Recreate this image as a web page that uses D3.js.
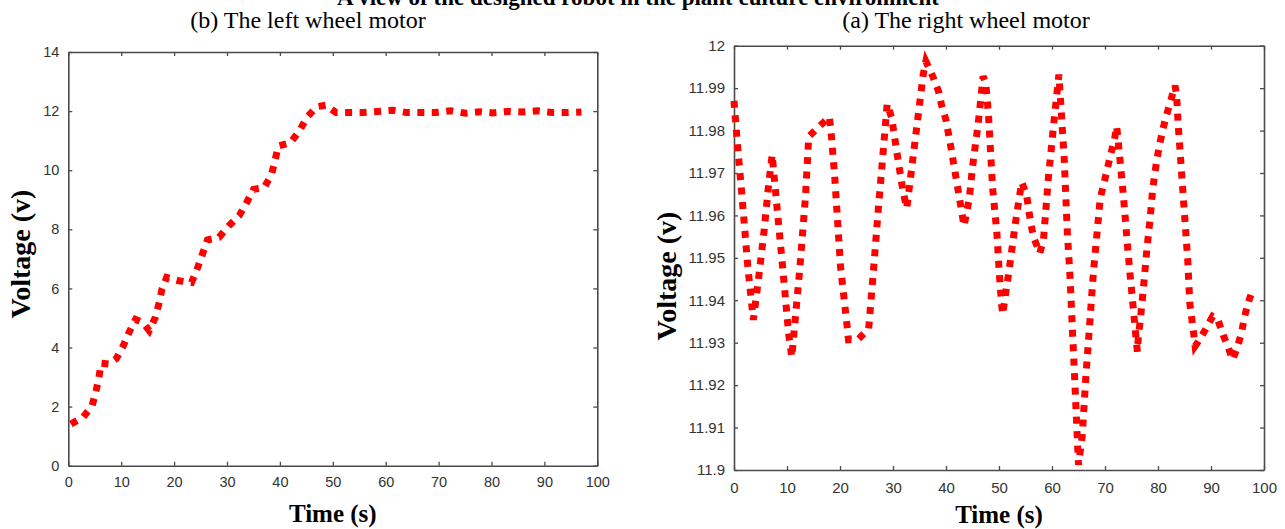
<!DOCTYPE html>
<html>
<head>
<meta charset="utf-8">
<script src="https://cdn.jsdelivr.net/npm/d3@7"></script>
<style>
  body { margin: 0; background: #fff; }
  svg { display: block; }
</style>
</head>
<body>
<svg id="fig" width="1285" height="529"></svg>
<script>
// ---- Left wheel motor: voltage while ramping up, then holding near 12 V ----
const leftTime = [0.5, 2.8, 4.5, 5.2, 5.8, 6.2, 7.7, 9.1, 10.4, 11.5, 12.7, 14.1, 15.3, 16.4, 17.1, 17.7,
  18.6, 20.9, 23.3, 24.4, 25.3, 26.3, 28.5, 30.3, 32.3, 33.7, 35.0, 37.0, 38.4, 39.1, 39.7, 42.0,
  43.8, 45.1, 47.0, 48.7, 50.6, 53.1, 55.8, 58.5, 61.4, 64.0, 66.8, 69.3, 72.4, 75.1, 77.8, 80.2,
  83.2, 85.9, 88.7, 91.5, 94.3, 97.0];
const leftVoltage = [1.41, 1.64, 2.03, 2.49, 3.0, 3.47, 3.44, 3.63, 4.06, 4.52, 4.95, 4.84, 4.57, 5.0, 5.46, 5.97,
  6.37, 6.26, 6.2, 6.68, 7.13, 7.64, 7.73, 8.11, 8.46, 8.9, 9.35, 9.41, 9.84, 10.35, 10.82, 10.93,
  11.36, 11.79, 12.15, 12.2, 11.95, 11.95, 11.95, 11.99, 12.03, 11.95, 11.95, 11.95, 12.01, 11.93, 11.98, 11.94,
  11.99, 11.97, 12.01, 11.95, 11.95, 11.97];

// ---- Right wheel motor: small ripple around 11.95 V ----
const rightTime = [0.0, 0.7, 1.45, 1.9, 2.6, 3.65, 4.7, 5.66, 6.5, 7.2, 7.7, 8.5, 9.3, 10.3, 10.9, 12.4,
  13.5, 14.1, 16.2, 18.0, 18.3, 19.0, 20.1, 21.3, 21.6, 23.5, 25.4, 26.3, 27.2, 28.4, 28.9, 29.75,
  31.0, 31.9, 32.6, 35.7, 36.2, 37.5, 38.6, 39.2, 40.0, 41.0, 42.4, 43.4, 43.9, 44.4, 45.0, 46.1,
  46.7, 47.0, 47.5, 48.0, 48.8, 49.6, 50.1, 50.5, 50.7, 51.1, 51.9, 53.0, 53.8, 54.3, 55.2, 56.0,
  56.6, 57.7, 58.4, 59.3, 60.4, 61.0, 61.3, 62.3, 62.9, 63.4, 63.9, 64.3, 64.8, 65.0, 65.7, 66.4,
  67.0, 67.8, 69.1, 69.8, 71.1, 71.8, 72.2, 72.7, 73.5, 74.2, 74.7, 76.1, 76.3, 76.9, 77.4, 77.9,
  78.5, 79.0, 79.4, 79.8, 80.3, 80.9, 81.6, 82.4, 83.2, 83.5, 83.8, 84.2, 84.8, 85.2, 85.6, 86.0,
  86.7, 87.0, 87.6, 88.9, 90.3, 91.3, 92.3, 93.3, 94.1, 95.0, 95.8, 96.3, 97.0, 97.7];
const rightVoltage = [11.987, 11.976, 11.9654, 11.9586, 11.948, 11.9354, 11.9458, 11.9562, 11.9668, 11.9743, 11.9675, 11.9568, 11.9462, 11.9322, 11.9266, 11.9472,
  11.9647, 11.9786, 11.9811, 11.9832, 11.9798, 11.9692, 11.9479, 11.9344, 11.9307, 11.9309, 11.9332, 11.9468, 11.9611, 11.9788, 11.9863, 11.983,
  11.9727, 11.9656, 11.9617, 11.9932, 11.9963, 11.9928, 11.9892, 11.9858, 11.9825, 11.9755, 11.9651, 11.9575, 11.9607, 11.964, 11.9714, 11.9819,
  11.989, 11.9928, 11.9912, 11.984, 11.9664, 11.9558, 11.9456, 11.9389, 11.9367, 11.9403, 11.947, 11.9574, 11.964, 11.9678, 11.9649, 11.958,
  11.9546, 11.9511, 11.9544, 11.9686, 11.9825, 11.9896, 11.9932, 11.9735, 11.9558, 11.9456, 11.9317, 11.921, 11.9067, 11.9012, 11.908, 11.9222,
  11.9325, 11.9464, 11.964, 11.9676, 11.9745, 11.978, 11.981, 11.9748, 11.9642, 11.9536, 11.9465, 11.9279, 11.9313, 11.9383, 11.945, 11.952,
  11.9591, 11.9662, 11.9698, 11.9733, 11.9767, 11.9802, 11.9836, 11.987, 11.9906, 11.9886, 11.9815, 11.9745, 11.9638, 11.9568, 11.9497, 11.9393,
  11.9325, 11.9292, 11.9303, 11.933, 11.9362, 11.9354, 11.9318, 11.9287, 11.926, 11.929, 11.9326, 11.936, 11.9393, 11.942];

// ---- Axis ticks and labels ----
const timeTicks = [0, 10, 20, 30, 40, 50, 60, 70, 80, 90, 100];
const leftVoltTicks = [0, 2, 4, 6, 8, 10, 12, 14];
const rightVoltTicks = [11.9, 11.91, 11.92, 11.93, 11.94, 11.95, 11.96, 11.97, 11.98, 11.99, 12];
const rightVoltLabels = ["11.9", "11.91", "11.92", "11.93", "11.94", "11.95", "11.96", "11.97", "11.98", "11.99", "12"];

const figureTitle = "A view of the designed robot in the plant culture environment";
const leftTitle = "(b) The left wheel motor";
const rightTitle = "(a) The right wheel motor";

const svg = d3.select("#fig");
const SERIF = "'Liberation Serif','Times New Roman',Times,serif";
const SANS = "'Liberation Sans',Arial,Helvetica,sans-serif";

function panel(cfg) {
  const x = d3.scaleLinear().domain([0, 100]).range([cfg.left, cfg.right]);
  const y = d3.scaleLinear().domain(cfg.yDomain).range([cfg.bottom, cfg.top]);
  const g = svg.append("g");

  const styleAxis = sel => {
    sel.selectAll(".domain").attr("stroke", "#4a4a4a").attr("stroke-width", 1.6);
    sel.selectAll(".tick line").attr("stroke", "#4a4a4a").attr("stroke-width", 1.3);
    sel.selectAll(".tick text").attr("fill", "#333").attr("font-family", SANS).attr("font-size", cfg.tickFont);
  };

  // bottom / left axes carry labels, top / right only mirror the ticks
  g.append("g").attr("transform", `translate(0,${cfg.bottom})`)
    .call(d3.axisBottom(x).tickValues(timeTicks).tickSize(-4).tickSizeOuter(0).tickPadding(cfg.xPad))
    .call(styleAxis);
  g.append("g").attr("transform", `translate(0,${cfg.top})`)
    .call(d3.axisTop(x).tickValues(timeTicks).tickSize(-4).tickSizeOuter(0).tickFormat(""))
    .call(styleAxis);
  g.append("g").attr("transform", `translate(${cfg.left},0)`)
    .call(d3.axisLeft(y).tickValues(cfg.yTicks).tickSize(-4).tickSizeOuter(0).tickPadding(9)
      .tickFormat((d, i) => cfg.yLabels[i]))
    .call(styleAxis);
  g.append("g").attr("transform", `translate(${cfg.right},0)`)
    .call(d3.axisRight(y).tickValues(cfg.yTicks).tickSize(-4).tickSizeOuter(0).tickFormat(""))
    .call(styleAxis);

  // thick dotted trace
  const line = d3.line().x(i => x(cfg.t[i])).y(i => y(cfg.v[i]));
  g.append("path")
    .attr("d", line(d3.range(cfg.t.length)))
    .attr("fill", "none")
    .attr("stroke", "#ff0000")
    .attr("stroke-width", 7)
    .attr("stroke-dasharray", "7 7.5")
    .attr("stroke-linecap", "butt")
    .attr("stroke-linejoin", "miter");

  // axis titles
  g.append("text")
    .attr("x", (cfg.left + cfg.right) / 2).attr("y", cfg.xTitleY)
    .attr("text-anchor", "middle")
    .attr("font-family", SERIF).attr("font-weight", "bold").attr("font-size", 25)
    .attr("fill", "#000")
    .text("Time (s)");
  g.append("text")
    .attr("transform", `translate(${cfg.yTitleX},${cfg.yTitleY}) rotate(-90)`)
    .attr("text-anchor", "middle")
    .attr("font-family", SERIF).attr("font-weight", "bold").attr("font-size", 28)
    .attr("fill", "#000")
    .text("Voltage (v)");

  // panel caption
  svg.append("text")
    .attr("x", cfg.captionX).attr("y", 28)
    .attr("text-anchor", "middle")
    .attr("font-family", SERIF).attr("font-size", 24)
    .attr("fill", "#000")
    .text(cfg.caption);
}

// figure heading
svg.append("text")
  .attr("x", 638).attr("y", 5)
  .attr("text-anchor", "middle")
  .attr("font-family", SERIF).attr("font-weight", "bold").attr("font-size", 23)
  .attr("fill", "#000")
  .text(figureTitle);

panel({
  left: 68.3, right: 597.3, top: 52, bottom: 465.7,
  yDomain: [0, 14], yTicks: leftVoltTicks, yLabels: leftVoltTicks.map(String),
  t: leftTime, v: leftVoltage,
  tickFont: 14.5, xPad: 11,
  xTitleY: 522, yTitleX: 30, yTitleY: 254,
  caption: leftTitle, captionX: 308
});

panel({
  left: 734, right: 1264, top: 45.7, bottom: 470,
  yDomain: [11.9, 12], yTicks: rightVoltTicks, yLabels: rightVoltLabels,
  t: rightTime, v: rightVoltage,
  tickFont: 15, xPad: 12.5,
  xTitleY: 523, yTitleX: 676, yTitleY: 276,
  caption: rightTitle, captionX: 966
});
</script>
</body>
</html>
